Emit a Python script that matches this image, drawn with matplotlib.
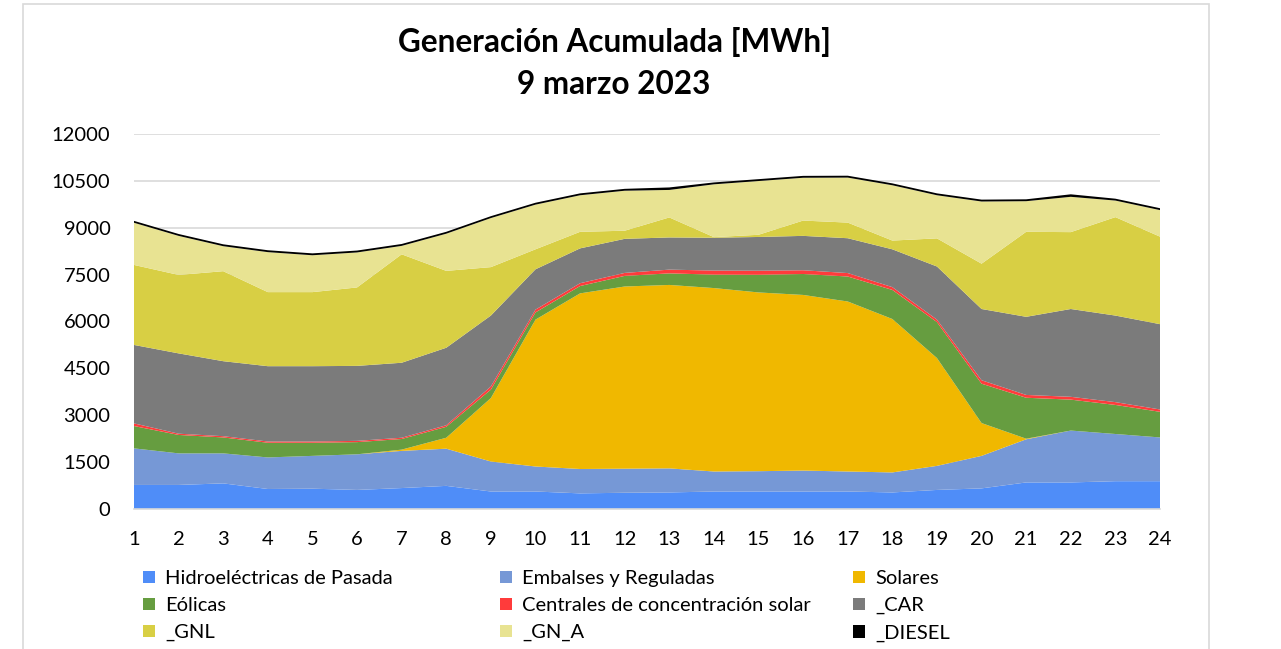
import matplotlib.pyplot as plt
from matplotlib.patches import Rectangle, Patch

plt.rcParams['font.family'] = ['Lato', 'DejaVu Sans']

horas = list(range(1, 25))

hidro_pasada = [770, 770, 820, 640, 650, 610, 670, 740, 560, 560, 500, 520,
                530, 560, 560, 560, 560, 530, 610, 660, 850, 850, 890, 890]
embalses = [1170, 1010, 960, 1010, 1050, 1140, 1190, 1190, 960, 800, 780, 770,
            770, 640, 650, 670, 640, 640, 770, 1040, 1380, 1660, 1510, 1400]
solares = [0, 0, 0, 0, 0, 0, 40, 350, 2030, 4700, 5620, 5830,
           5870, 5870, 5720, 5620, 5440, 4910, 3450, 1050, 20, 0, 0, 0]
eolicas = [715, 590, 510, 470, 420, 390, 340, 350, 270, 230, 235, 340,
           370, 430, 565, 670, 800, 930, 1150, 1260, 1310, 990, 930, 820]
csp = [85, 40, 40, 40, 40, 40, 40, 50, 100, 90, 90, 95,
       120, 130, 130, 120, 110, 90, 80, 110, 90, 90, 90, 75]
car = [2510, 2570, 2400, 2410, 2410, 2400, 2400, 2480, 2270, 1290, 1115, 1090,
       1030, 1050, 1080, 1100, 1115, 1210, 1700, 2280, 2500, 2810, 2770, 2730]
gnl = [2560, 2510, 2880, 2370, 2370, 2510, 3470, 2460, 1550, 640, 530, 260,
       640, 20, 70, 490, 500, 280, 900, 1450, 2720, 2460, 3150, 2800]
gn_a = [1350, 1250, 800, 1280, 1180, 1120, 270, 1190, 1570, 1430, 1170, 1280,
        880, 1690, 1720, 1370, 1440, 1770, 1380, 1990, 980, 1130, 530, 850]
diesel = [60, 60, 60, 60, 60, 60, 60, 60, 60, 60, 60, 60,
          80, 60, 60, 60, 60, 60, 60, 60, 60, 80, 60, 60]

nombres = ['Hidroeléctricas de Pasada', 'Embalses y Reguladas', 'Solares',
           'Eólicas', 'Centrales de concentración solar', '_CAR',
           '_GNL', '_GN_A', '_DIESEL']
colores = ['#4F8DF8', '#7698D6', '#F0B800', '#669D40', '#FF3B3B', '#7B7B7B',
           '#D8CF44', '#E8E392', '#000000']

fig = plt.figure(figsize=(12.81, 6.49), dpi=100)
ax = fig.add_axes([134 / 1281, 140 / 649, 1026 / 1281, 375 / 649])

ax.stackplot(horas, hidro_pasada, embalses, solares, eolicas, csp, car, gnl, gn_a, diesel,
             colors=colores, linewidth=0, zorder=2)

ax.set_xlim(1, 24)
ax.set_ylim(0, 12000)
ax.set_yticks(range(0, 12001, 1500))
ax.set_xticks(horas)
ax.grid(axis='y', color='#D9D9D9', linewidth=1.2, zorder=0)
ax.tick_params(length=0, labelsize=14.5, colors='#000000')
ax.tick_params(axis='y', pad=17)
ax.tick_params(axis='x', pad=16)
for s in ['top', 'right', 'left']:
    ax.spines[s].set_visible(False)
ax.spines['bottom'].set_color('#D9D9D9')
ax.spines['bottom'].set_linewidth(1.2)

fig.text(614 / 1281, 1 - 63 / 649, 'Generación Acumulada [MWh]\n9 marzo 2023',
         ha='center', va='center', fontsize=22.7, fontweight='bold', linespacing=1.55)

# marco del gráfico
fig.patches.append(Rectangle((23 / 1281, -0.01), (1209 - 23) / 1281, 1 - 4 / 649 + 0.01,
                             transform=fig.transFigure, fill=False,
                             edgecolor='#D9D9D9', linewidth=1.2))

handles = [Patch(facecolor=c, edgecolor='none') for c in colores]
col_x = [143, 500, 853]
for j in range(3):
    idx = [j, j + 3, j + 6]
    leg = fig.legend([handles[i] for i in idx], [nombres[i] for i in idx],
                     loc='upper left', bbox_to_anchor=(col_x[j] / 1281, 1 - 570 / 649),
                     frameon=False, fontsize=14.5, handlelength=0.6, handleheight=0.6,
                     handletextpad=0.5, labelspacing=0.5, borderaxespad=0,
                     borderpad=0)

fig.savefig('out.png', dpi=100)
